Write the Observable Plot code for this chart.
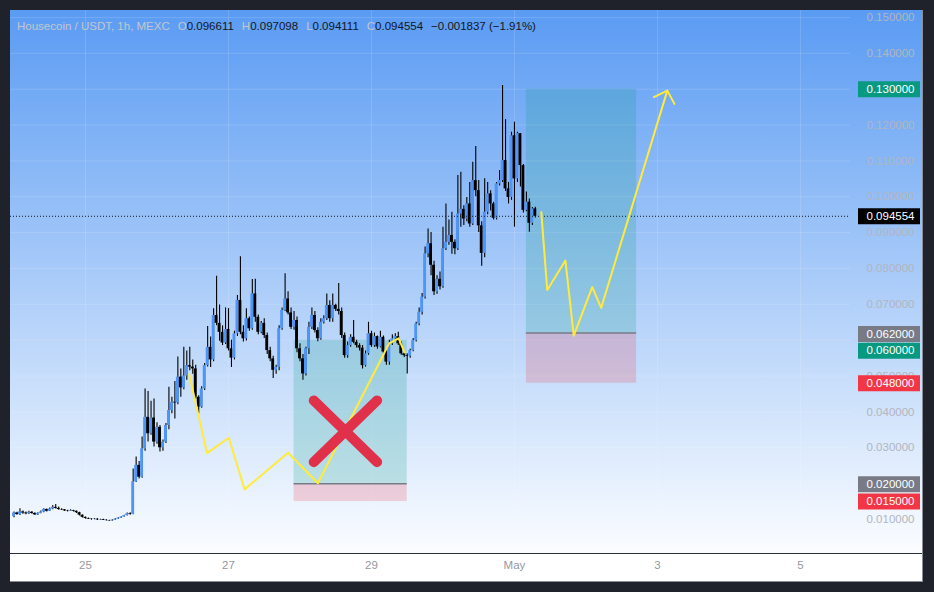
<!DOCTYPE html>
<html><head><meta charset="utf-8">
<script src="https://cdn.jsdelivr.net/npm/d3@7"></script>
<script src="https://cdn.jsdelivr.net/npm/@observablehq/plot@0.6"></script>
<style>
html,body{margin:0;padding:0;background:#1f222b;width:934px;height:592px;overflow:hidden;}
#frame{position:absolute;left:10px;top:10px;width:912px;height:571px;border-right:1px solid #8a8e99;border-bottom:1px solid #8a8e99;
  background:linear-gradient(180deg,#5a9bf3 0px,#fbfdff 543px,#ffffff 543px);}
#chart{position:absolute;left:0;top:0;}
#legend{position:absolute;left:7px;top:10px;font:11.5px "Liberation Sans",Arial,sans-serif;white-space:nowrap;color:#131722;}
#legend .k{color:#c3c6cf;}
#legend .g{margin-left:8px;}
</style></head>
<body>
<div id="frame"><div id="chart"></div>
<div id="legend"><span class="k">Housecoin / USDT, 1h, MEXC</span><span class="k g">O</span><span>0.096611</span><span class="k g">H</span><span>0.097098</span><span class="k g">L</span><span>0.094111</span><span class="k g">C</span><span>0.094554</span><span class="g">−0.001837 (−1.91%)</span></div>
</div>
<script>
// ---- data ----
const baseDay = "2025-04-25T00:00:00Z";   // hour 0
const firstHour = -24;                     // first candle: Apr 24 00:00
const firstOpen = 0.0108;
const closes = [
0.0118,0.0114,0.0121,0.0118,0.0116,0.0120,0.0117,0.0113,0.0117,0.0121,0.0128,0.0123,0.0129,0.0134,0.0131,0.0128,0.0127,0.0124,0.0123,0.0125,
0.0123,0.0119,0.0112,0.0106,0.0103,0.0101,0.0100,0.0101,0.0099,0.0100,0.0098,0.0097,0.0096,0.0098,0.0101,0.0104,0.0107,0.0111,0.0116,0.0114,
0.0205,0.0251,0.0218,0.0297,0.0385,0.0339,0.0383,0.0316,
0.0357,0.0300,0.0316,0.0362,0.0404,0.0427,0.0425,0.0497,
0.0467,0.0500,0.0529,0.0525,0.0520,0.0441,0.0413,0.0464,
0.0529,0.0580,0.0545,0.0669,0.0647,0.0622,0.0592,0.0630,
0.0576,0.0550,0.0618,0.0711,0.0622,0.0604,0.0660,0.0632,
0.0729,0.0664,0.0622,0.0647,0.0613,0.0571,0.0548,0.0516,
0.0524,0.0632,0.0683,0.0715,0.0676,0.0636,0.0655,0.0576,
0.0548,0.0506,0.0576,0.0636,0.0669,0.0627,0.0604,0.0650,
0.0660,0.0697,0.0660,0.0697,0.0686,0.0680,0.0613,0.0557,
0.0585,0.0608,0.0594,0.0585,0.0578,0.0529,0.0562,0.0618,
0.0585,0.0610,0.0581,0.0608,0.0567,0.0539,0.0590,0.0604,
0.0610,0.0590,0.0562,0.0557,0.0555,0.0571,0.0599,0.0645,
0.0678,0.0720,0.0841,0.0869,0.0809,0.0735,0.0770,0.0749,
0.0855,0.0873,0.0892,0.0873,0.0855,0.0952,0.0965,0.0938,
0.0980,0.0924,0.1045,0.1017,0.0919,0.0842,0.0957,0.1008,
0.0980,0.0940,0.1036,0.1045,0.1101,0.1022,0.0998,0.1170,
0.1050,0.1176,0.1087,0.0962,0.0985,0.0926,0.096611,0.094554];
const highs = [
0.0121,0.0120,0.0130,0.0124,0.0121,0.0123,0.0122,0.0119,0.0119,0.0124,0.0130,0.0129,0.0132,0.0139,0.0142,0.0135,0.0130,0.0128,0.0126,0.0127,
0.0126,0.0124,0.0120,0.0113,0.0107,0.0104,0.0102,0.0103,0.0102,0.0101,0.0101,0.0099,0.0098,0.0099,0.0102,0.0105,0.0108,0.0112,0.0118,0.0119,
0.0241,0.0274,0.0262,0.0330,0.0464,0.0457,0.0430,0.0436,
0.0370,0.0362,0.0322,0.0368,0.0469,0.0441,0.0485,0.0553,
0.0520,0.0580,0.0570,0.0580,0.0545,0.0530,0.0445,0.0470,
0.0535,0.0638,0.0609,0.0688,0.0778,0.0698,0.0640,0.0690,
0.0688,0.0600,0.0625,0.0725,0.0833,0.0640,0.0688,0.0665,
0.0769,0.0770,0.0670,0.0652,0.0660,0.0620,0.0580,0.0555,
0.0530,0.0640,0.0690,0.0785,0.0735,0.0690,0.0680,0.0665,
0.0590,0.0560,0.0580,0.0650,0.0690,0.0680,0.0635,0.0660,
0.0668,0.0729,0.0710,0.0729,0.0700,0.0758,0.0690,0.0620,
0.0595,0.0615,0.0655,0.0600,0.0590,0.0585,0.0570,0.0650,
0.0625,0.0620,0.0612,0.0625,0.0612,0.0575,0.0600,0.0615,
0.0618,0.0622,0.0595,0.0568,0.0562,0.0575,0.0605,0.0650,
0.0690,0.0730,0.0860,0.0910,0.0900,0.0820,0.0780,0.0790,
0.0915,0.0980,0.0935,0.0957,0.0880,0.1059,0.1068,0.0975,
0.0998,0.1040,0.1096,0.1140,0.1045,0.0930,0.1050,0.1040,
0.1017,0.0985,0.1040,0.1073,0.1310,0.1215,0.1040,0.1180,
0.1208,0.1180,0.1176,0.1090,0.1013,0.0994,0.0970,0.097098];
const lows = [
0.0105,0.0112,0.0111,0.0115,0.0113,0.0114,0.0115,0.0111,0.0111,0.0116,0.0119,0.0121,0.0122,0.0127,0.0129,0.0126,0.0125,0.0122,0.0121,0.0122,
0.0121,0.0117,0.0110,0.0104,0.0101,0.0100,0.0098,0.0099,0.0097,0.0098,0.0097,0.0096,0.0095,0.0095,0.0097,0.0100,0.0103,0.0106,0.0110,0.0112,
0.0113,0.0203,0.0213,0.0215,0.0290,0.0316,0.0335,0.0302,
0.0310,0.0288,0.0290,0.0312,0.0350,0.0395,0.0380,0.0420,
0.0441,0.0462,0.0488,0.0515,0.0505,0.0435,0.0395,0.0410,
0.0460,0.0525,0.0524,0.0540,0.0640,0.0597,0.0585,0.0588,
0.0570,0.0524,0.0545,0.0610,0.0615,0.0595,0.0598,0.0625,
0.0628,0.0650,0.0615,0.0618,0.0605,0.0560,0.0540,0.0493,
0.0505,0.0515,0.0628,0.0680,0.0670,0.0630,0.0628,0.0565,
0.0540,0.0488,0.0500,0.0560,0.0630,0.0620,0.0596,0.0600,
0.0645,0.0655,0.0650,0.0650,0.0680,0.0670,0.0605,0.0550,
0.0550,0.0580,0.0590,0.0578,0.0570,0.0520,0.0525,0.0558,
0.0580,0.0580,0.0575,0.0578,0.0560,0.0530,0.0530,0.0585,
0.0598,0.0585,0.0558,0.0552,0.0506,0.0550,0.0568,0.0595,
0.0640,0.0670,0.0715,0.0830,0.0780,0.0725,0.0728,0.0740,
0.0745,0.0850,0.0865,0.0840,0.0838,0.0850,0.0915,0.0920,
0.0930,0.0915,0.0920,0.1000,0.0900,0.0806,0.0830,0.0950,
0.0960,0.0935,0.0935,0.1030,0.1040,0.1015,0.0980,0.0990,
0.0915,0.1040,0.1027,0.0955,0.0958,0.0901,0.0920,0.094111];

const lastPrice = 0.094554;
const yTicks = [0.01,0.02,0.03,0.04,0.05,0.06,0.07,0.08,0.09,0.10,0.11,0.12,0.13,0.14,0.15];
const xTickDates = ["2025-04-25","2025-04-27","2025-04-29","2025-05-01","2025-05-03","2025-05-05"];
const xTickLabels = ["25","27","29","May","3","5"];

// long-position drawings (hours from baseDay)
const positions = [
  {startH: 70, endH: 108, stop: 0.015, entry: 0.020, target: 0.060},
  {startH: 148, endH: 185, stop: 0.048, entry: 0.062, target: 0.130}
];
// hand-drawn yellow paths: [hour, price]
const yellowLeft = [[34.8,0.0505],[40.8,0.0285],[48.1,0.0328],[53.4,0.0184],[68.0,0.0286],[78.0,0.0201],[101.9,0.0591],[105.1,0.0605],[107.1,0.0566]];
const yellowRight = [[153.0,0.0957],[155.0,0.0740],[161.1,0.0822],[163.9,0.0613],[170.1,0.0748],[173.1,0.0690],[195.3,0.1296]];
const arrowHead = [[190.8,0.1278],[195.3,0.1296],[197.7,0.1259]];
// red cross
const crossLines = [[[76.6,0.0432],[97.9,0.0260]],[[97.9,0.0432],[76.6,0.0260]]];
// price-scale tags (value, colour, vertical push applied by the price scale to avoid collisions, px)
const tagValues = [0.130, 0.094554, 0.062, 0.060, 0.048, 0.020, 0.015];
const tagColors = ["#089981","#000000","#787b86","#089981","#f23645","#787b86","#f23645"];
const tagPush   = [0, 0, 1, 10.5, 0, 0.5, 0];

// ---- build ----
const base = Date.parse(baseDay);
const H = 3600e3;
const at = h => new Date(base + h * H);
const candles = closes.map((c, i) => ({
  t: at(firstHour + i), open: i ? closes[i - 1] : firstOpen, close: c, high: highs[i], low: lows[i]
}));
const halfBody = 29 * 60e3;
const pts = arr => arr.map(([h, v]) => ({t: at(h), v}));
const tags = tagValues.map((v, i) => ({v, c: tagColors[i], dy: tagPush[i]}));
const xTicks = xTickDates.map((d, i) => ({d: new Date(d + "T00:00:00Z"), label: xTickLabels[i]}));
const boxes = positions.flatMap(p => [
  {x1: at(p.startH), x2: at(p.endH), y1: p.entry, y2: p.target, c: "#089981"},
  {x1: at(p.startH), x2: at(p.endH), y1: p.stop, y2: p.entry, c: "#f23645"}
]);
const entries = positions.map(p => ({x1: at(p.startH), x2: at(p.endH), y: p.entry}));
const links = crossLines.map(([a, b]) => ({x1: at(a[0]), y1: a[1], x2: at(b[0]), y2: b[1]}));

const tagMarks = tags.flatMap(t => [
  Plot.ruleY([t], {y: "v", stroke: t.c, strokeWidth: 16, insetLeft: 848, insetRight: -70, dy: t.dy}),
  Plot.text([t], {y: "v", text: d => d.v.toFixed(6), frameAnchor: "right", textAnchor: "start", dx: 16, dy: t.dy, fill: "white"})
]);

const chart = Plot.plot({
  width: 912, height: 571,
  marginLeft: 0, marginRight: 72, marginTop: 0, marginBottom: 28,
  x: {type: "utc", domain: [at(-25.18), at(256.8)], axis: null},
  y: {domain: [0.00052, 0.15194], axis: null},
  color: {type: "identity"},
  style: {background: "transparent", fontFamily: "'Liberation Sans', Arial, sans-serif", fontSize: "11.5px", overflow: "visible"},
  marks: [
    Plot.ruleY(yTicks, {stroke: "white", strokeOpacity: 0.14}),
    Plot.ruleX(xTicks, {x: "d", stroke: "white", strokeOpacity: 0.14}),
    Plot.rect(boxes, {x1: "x1", x2: "x2", y1: "y1", y2: "y2", fill: "c", fillOpacity: 0.2}),
    Plot.ruleY(entries, {x1: "x1", x2: "x2", y: "y", stroke: "#787b86", strokeWidth: 1.5}),
    Plot.ruleX(candles, {x: "t", y1: "low", y2: "high", stroke: "#000", strokeWidth: 1.1}),
    Plot.rect(candles, {x1: d => new Date(+d.t - halfBody), x2: d => new Date(+d.t + halfBody),
      y1: "open", y2: "close", fill: d => d.close >= d.open ? "#4f95f7" : "#000000"}),
    Plot.ruleY([lastPrice], {stroke: "#131722", strokeDasharray: "1 2", strokeWidth: 1}),
    Plot.line(pts(yellowLeft), {x: "t", y: "v", stroke: "#ffeb3b", strokeWidth: 2}),
    Plot.line(pts(yellowRight), {x: "t", y: "v", stroke: "#ffeb3b", strokeWidth: 2}),
    Plot.line(pts(arrowHead), {x: "t", y: "v", stroke: "#ffeb3b", strokeWidth: 2}),
    Plot.link(links, {x1: "x1", y1: "y1", x2: "x2", y2: "y2", stroke: "#e0304a", strokeWidth: 10, strokeLinecap: "round"}),
    // price scale
    Plot.text(yTicks, {y: d => d, text: d => d.toFixed(6), frameAnchor: "right", textAnchor: "start", dx: 16, fill: "#b2b5be"}),
    ...tagMarks,
    // time scale
    Plot.ruleY([0.00052], {stroke: "#2a2e39", strokeWidth: 1, insetRight: -72}),
    Plot.text(xTicks, {x: "d", text: "label", frameAnchor: "bottom", dy: 15, fill: "#9598a1"})
  ]
});
document.getElementById("chart").appendChild(chart);
</script>
</body></html>
